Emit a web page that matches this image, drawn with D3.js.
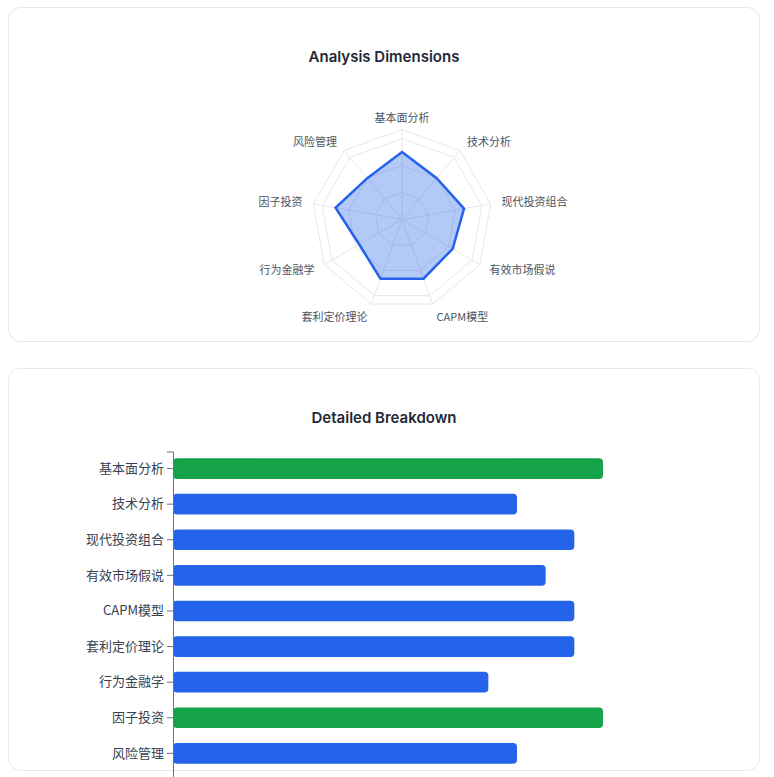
<!DOCTYPE html>
<html>
<head>
<meta charset="utf-8">
<script src="https://cdn.jsdelivr.net/npm/d3@7"></script>
<style>
  html, body { margin: 0; padding: 0; background: #fff; }
  body { width: 774px; height: 777px; overflow: hidden; }
  svg { display: block; overflow: visible; }
  .title { font-family: Inter, "Noto Sans", sans-serif; font-weight: 600; font-size: 15px; fill: #1f2937; }
  .radar-label { font-family: "Noto Sans CJK SC", "Noto Sans", sans-serif; font-size: 11px; fill: #4b5563; }
  .y-axis text { font-family: "Noto Sans CJK SC", "Noto Sans", sans-serif; font-size: 13px; fill: #374151; }
  .y-axis path, .y-axis line { stroke: #6b7280; }
</style>
</head>
<body>
<div id="chart"></div>
<script>
// dimensions and their scores (same list feeds both charts)
const dims = ["基本面分析", "技术分析", "现代投资组合", "有效市场假说", "CAPM模型", "套利定价理论", "行为金融学", "因子投资", "风险管理"];
const scores = [15, 12, 14, 13, 14, 14, 11, 15, 12];
const ringLevels = [6, 12, 18, 20];
const radarMax = 20;
const titles = ["Analysis Dimensions", "Detailed Breakdown"];

const W = 774, H = 777;
const svg = d3.select("#chart").append("svg").attr("width", W).attr("height", H);

// the two cards
const cards = [
  {x: 8, y: 7, w: 752, h: 335},
  {x: 8, y: 368, w: 752, h: 403}
];
svg.selectAll("rect.card").data(cards).join("rect")
  .attr("class", "card")
  .attr("x", d => d.x + 0.5).attr("y", d => d.y + 0.5)
  .attr("width", d => d.w - 1).attr("height", d => d.h - 1)
  .attr("rx", 12)
  .attr("fill", "#fff")
  .attr("stroke", "#e5e7eb");

svg.selectAll("text.title").data(titles).join("text")
  .attr("class", "title")
  .attr("x", (d, i) => cards[i].x + cards[i].w / 2)
  .attr("y", (d, i) => i === 0 ? 62 : 423)
  .attr("text-anchor", "middle")
  .text(d => d);

// ---- radar ----
const cx = 402, cy = 219.5, R = 90;
const radar = svg.append("g").attr("transform", `translate(${cx},${cy})`);
const rScale = d3.scaleLinear().domain([0, radarMax]).range([0, R]);
const angle = i => i * 2 * Math.PI / dims.length;

radar.selectAll("path.ring").data(ringLevels).join("path")
  .attr("class", "ring")
  .attr("d", lvl => d3.lineRadial()
      .angle((d, i) => angle(i))
      .radius(rScale(lvl))
      .curve(d3.curveLinearClosed)(dims))
  .attr("fill", "none")
  .attr("stroke", "#e5e7eb");

radar.selectAll("line.spoke").data(dims).join("line")
  .attr("class", "spoke")
  .attr("x2", (d, i) => d3.pointRadial(angle(i), rScale(radarMax))[0])
  .attr("y2", (d, i) => d3.pointRadial(angle(i), rScale(radarMax))[1])
  .attr("stroke", "#e5e7eb");

radar.append("path")
  .datum(scores)
  .attr("d", d3.lineRadial()
      .angle((d, i) => angle(i))
      .radius(d => rScale(d))
      .curve(d3.curveLinearClosed))
  .attr("fill", "rgba(37,99,235,0.35)")
  .attr("stroke", "#2563eb")
  .attr("stroke-width", 2.5)
  .attr("stroke-linejoin", "miter");

radar.selectAll("text.radar-label").data(dims).join("text")
  .attr("class", "radar-label")
  .each(function(d, i) {
    const [x, y] = d3.pointRadial(angle(i), 101);
    // labels below the centre sit a touch lower
    const yy = y > 60 ? y + 3 : y;
    d3.select(this)
      .attr("x", x).attr("y", yy)
      .attr("dy", "0.35em")
      .attr("text-anchor", Math.abs(x) < 1 ? "middle" : (x > 0 ? "start" : "end"))
      .text(d);
  });

// ---- bars ----
const maxScore = d3.max(scores);
const x = d3.scaleLinear().domain([0, maxScore]).range([173, 603]);
const y = d3.scaleBand().domain(dims).range([451.5, 785])
  .paddingInner(0.42).paddingOuter(0.394).align(0.24);

svg.append("g").selectAll("rect").data(dims).join("rect")
  .attr("x", x(0))
  .attr("y", d => y(d))
  .attr("width", (d, i) => x(scores[i]) - x(0))
  .attr("height", y.bandwidth())
  .attr("rx", 4)
  .attr("fill", (d, i) => scores[i] === maxScore ? "#16a34a" : "#2563eb");

svg.append("g").attr("class", "y-axis")
  .attr("transform", `translate(${x(0)},0)`)
  .call(d3.axisLeft(y).tickSizeOuter(0).tickSize(6).tickPadding(3));
</script>
</body>
</html>
